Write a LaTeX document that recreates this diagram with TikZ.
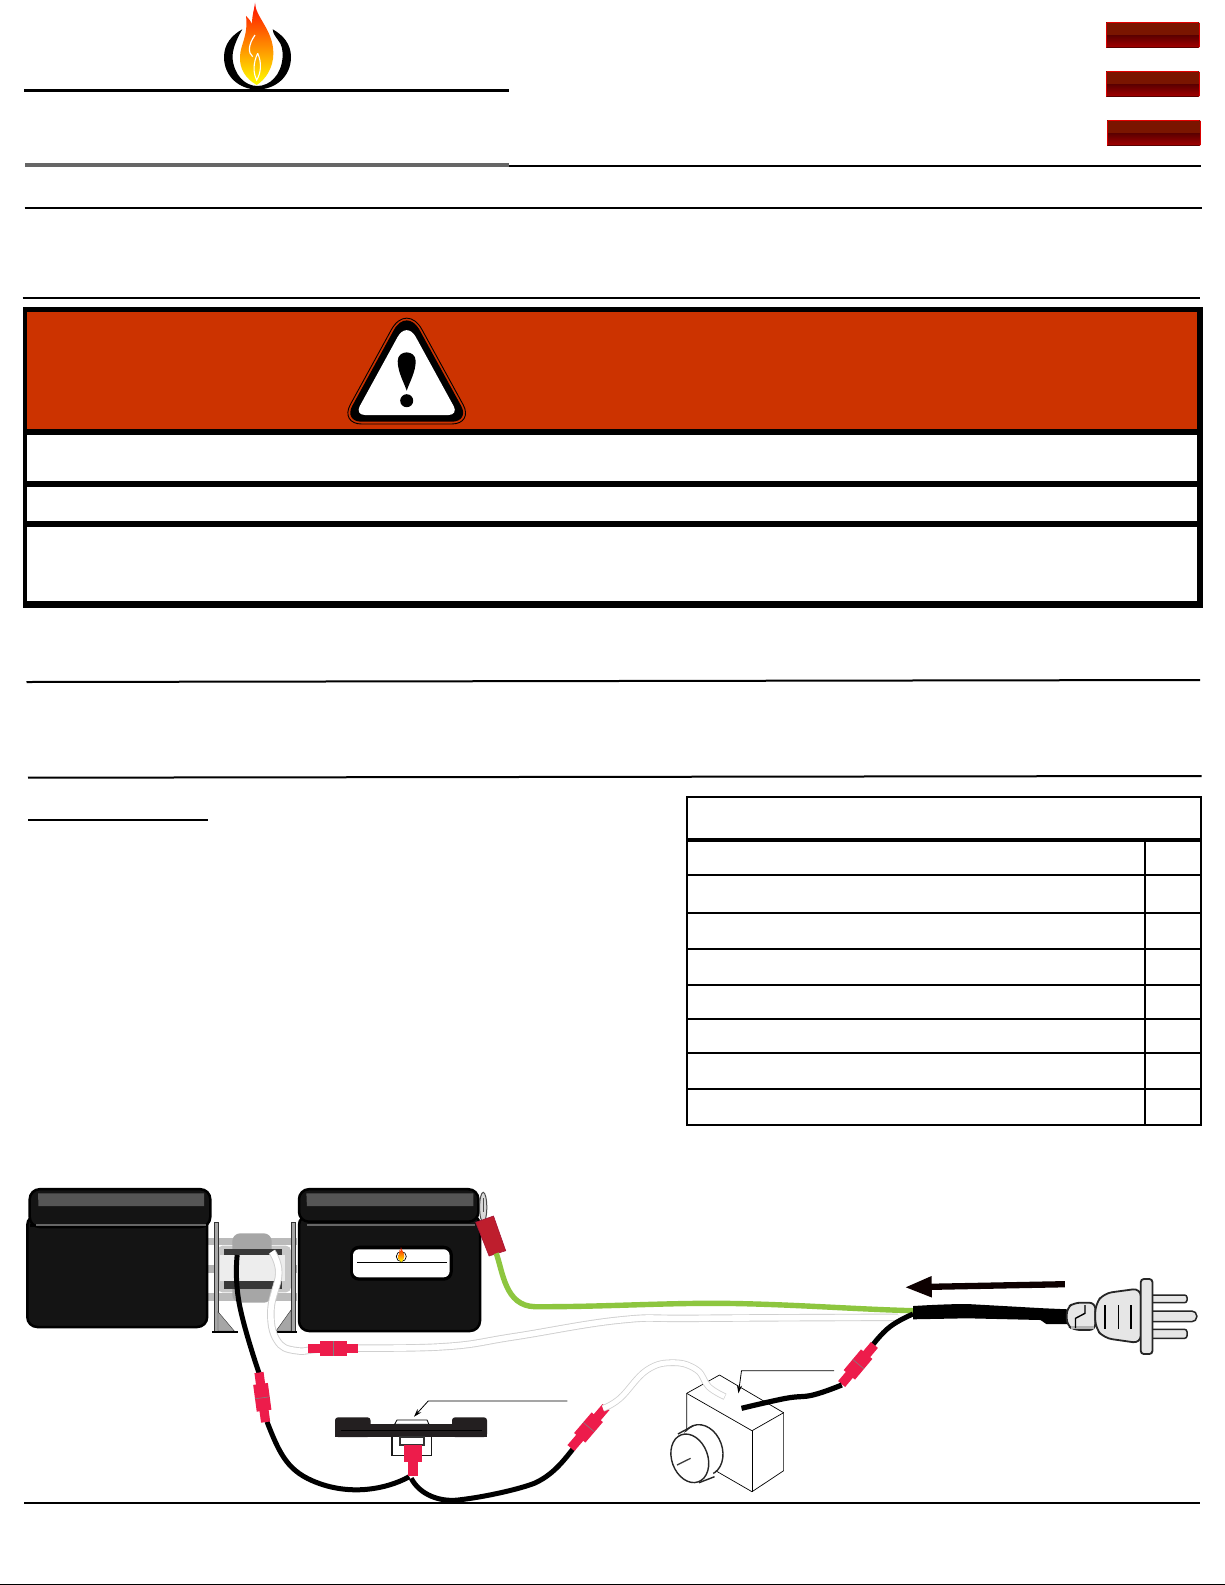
\documentclass[tikz,border=0pt]{standalone}
\usepackage{tikz}
\usetikzlibrary{arrows.meta}

\definecolor{warnred}{HTML}{CC3300}
\definecolor{fanblack}{HTML}{141414}
\definecolor{fanstrip}{HTML}{555555}
\definecolor{pinkclip}{HTML}{ED1C4B}
\definecolor{wiregreen}{HTML}{8DC63F}
\definecolor{wireedge}{HTML}{CFCFCF}
\definecolor{plugbody}{HTML}{E6E6E6}
\definecolor{limitblack}{HTML}{231F20}
\definecolor{btnedge}{HTML}{7A1500}
\definecolor{btnmid}{HTML}{BC1E00}
\definecolor{btnlow}{HTML}{5A0000}
\definecolor{btnbase}{HTML}{A40000}
\definecolor{groundclip}{HTML}{BE1E2D}

\tikzset{
  rule/.style={line width=2pt},
  blackwire/.style={line width=5pt, black},
  whitewire/.style={line width=#1, wireedge},
  whitecore/.style={line width=#1, white},
  fanshell/.style={draw=black, line width=2.5pt, fill=fanblack, rounded corners=10pt},
  leader/.style={line width=0.8pt, -{Stealth[length=8pt,width=5pt]}},
  plugpart/.style={draw=black!85, line width=1.8pt, fill=plugbody},
  clip joint/.pic={
    \fill[pinkclip] (-#1,-4.6) rectangle (#1,4.6);
    \fill[pinkclip] (-13.5,-7.4) rectangle (13.5,7.4);
    \draw[gray, line width=0.6pt] (0.5,-7.4) -- (0.5,7.4);
  },
  flame/.pic={
    \shade[top color=red!90!orange, middle color=orange!85!red, bottom color=yellow]
      (0,125) .. controls (-35,105) and (-52,75) .. (-50,40)
      .. controls (-50,5) and (-25,-20) .. (-32,-82)
      .. controls (-15,-65) and (-6,-50) .. (-10,-32)
      .. controls (-20,-70) and (-8,-95) .. (-5,-122)
      .. controls (-5,-80) and (50,-40) .. (50,30)
      .. controls (50,75) and (25,110) .. (0,125) -- cycle;
  }
}

\begin{document}
\begin{tikzpicture}[x=1pt,y=-1pt]

    \useasboundingbox (0,0) rectangle (1225,1585);
    \fill[white] (0,0) rectangle (1225,1585);


    % logo
    \fill[black]
      (242.3,29.3) .. controls (232,35) and (224,44) .. (224,57)
      .. controls (224,77) and (240,89.5) .. (257.3,89.5)
      .. controls (275,89.5) and (291,77) .. (291,57)
      .. controls (291,44) and (283,35) .. (272.7,29.3)
      .. controls (273,34) and (276,37) .. (278,40)
      .. controls (282,45) and (283,50) .. (282.5,58)
      .. controls (281,75) and (270,86) .. (257.3,86)
      .. controls (245,86) and (234,75) .. (232.5,58)
      .. controls (232.5,50) and (235,42) .. (242.3,29.3) -- cycle;

    \pic[scale=0.3333] at (256.7,43.3) {flame};

    \draw[white, line width=1.2pt] (255,35) .. controls (248,45) and (248,53) .. (252.7,56.7);
    \draw[white, line width=1.1pt] (257.7,53.3) .. controls (253,63) and (253,73) .. (256.7,80)
      .. controls (261,73) and (262,63) .. (257.7,53.3);


    % page rules
    \draw[line width=3.4pt] (24.3,90.7) -- (509,90.7);

    \draw[line width=4pt, black!60] (25,165) -- (509,165);

    \draw[rule] (509,165.7) -- (1201,165.7);

    \draw[rule] (24.5,207.7) -- (1202,207.7);

    \draw[rule] (22.5,297.7) -- (1200,297.7);

    \draw[rule] (26.5,682) -- (1200,680);

    \draw[rule] (28,777.7) -- (1201.5,776);

    \draw[rule] (28,820) -- (208,820);

    \draw[line width=2.4pt] (24,1503) -- (1199.5,1503);


    % red buttons
    \foreach \bx/\by in {1106/22, 1106/71, 1107/120} {
      \shade[left color=btnedge, middle color=btnmid, right color=btnedge]
        (\bx,\by) rectangle ++(93,13);
      \shade[top color=btnlow, bottom color=btnbase] (\bx,\by+13) rectangle ++(93,12.7);
      \draw[red!90!black, line width=0.7pt] (\bx+1,\by) -- ++(91,0);
      \draw[btnlow, line width=0.8pt] (\bx+1,\by+25.7) -- ++(91,0);
      \draw[red!85!black, line width=0.7pt] (\bx,\by+1) -- ++(0,23.7);
      \draw[red!85!black, line width=0.7pt] (\bx+93,\by+1) -- ++(0,23.7);
    }


    % warning box
    \fill[black] (22.7,307.3) rectangle (1202.7,607.7);
    \fill[warnred] (27.3,312.3) rectangle (1196.7,429.3);
    \fill[white] (27.3,434.5) rectangle (1196.7,480.7);
    \fill[white] (27.3,487.3) rectangle (1196.7,520.7);
    \fill[white] (27.3,527.3) rectangle (1196.7,601.3);

    \draw[black, line width=0.9pt] (406.7,424) [rounded corners=22pt] -- (339.7,424) [rounded corners=32pt] -- (406.7,301.7) [rounded corners=22pt] -- (473.7,424) -- cycle;
    \fill[black] (406.7,421.7) [rounded corners=18pt] -- (343.6,421.7) [rounded corners=27pt] -- (406.7,306.5) [rounded corners=18pt] -- (469.8,421.7) -- cycle;
    \fill[white] (406.7,415) [rounded corners=10pt] -- (354.9,415) [rounded corners=19pt] -- (406.7,320.4) [rounded corners=10pt] -- (458.5,415) -- cycle;
    \fill[black] (406.7,390.7) .. controls (403.8,382) and (397.7,372) .. (397.7,361)
      .. controls (397.7,349.5) and (415.7,349.5) .. (415.7,361)
      .. controls (415.7,372) and (409.6,382) .. (406.7,390.7) -- cycle;
    \fill[black] (406.7,400.7) circle (6.5);


    % parts table
    \draw[rule] (686.7,796.7) rectangle (1201,1124.7);

    \draw[line width=4pt] (686.7,839.7) -- (1201,839.7);

    \foreach \rowy in {875, 912.7, 948.7, 984.7, 1019, 1053, 1089} {
      \draw[rule] (686.7,\rowy) -- (1201,\rowy);
    }

    \draw[rule] (1145,840) -- (1145,1124.7);


    % blower housing
    \fill[black!27] (208.3,1237.7) rectangle (296.7,1245);
    \fill[black!30] (208.3,1265) rectangle (296.7,1272.7);
    \fill[black!27] (208.3,1293.3) rectangle (296.7,1300.7);
    \fill[black!22, rounded corners=5pt] (217.3,1245.7) rectangle (291,1292.3);
    \fill[black!35, rounded corners=8pt] (232.3,1233.3) rectangle (271.7,1302.7);
    \fill[black!7] (220,1255) rectangle (285,1280.7);
    \fill[black!78] (224,1249) rectangle (282,1255);
    \fill[black!78] (224,1281) rectangle (282,1289);

    \draw[black!80, fill=black!35, line width=0.6pt] (214,1222.3) rectangle (218,1331.7);
    \draw[black!80, fill=black!35, line width=0.6pt] (291,1222.3) rectangle (295,1331.7);
    \draw[black!80, fill=black!35] (218,1311.7) -- (234.3,1331) -- (218,1331) -- cycle;
    \draw[black!80, fill=black!35] (291,1310) -- (276,1331) -- (291,1331) -- cycle;
    \draw[line width=2.4pt] (212,1332) -- (237.7,1332);
    \draw[line width=2.4pt] (276,1332) -- (296.7,1332);

    \draw[fanshell] (27.3,1215) rectangle (207.2,1327);
    \draw[fanshell] (29.7,1189.2) rectangle (210.3,1227);
    \fill[fanstrip] (38,1193.3) -- (204,1193.3) -- (204,1206) -- (38.5,1206) -- cycle;
    \draw[black, line width=3pt] (30,1225) -- (208,1225);
    \draw[black!60, line width=1.3pt] (35.6,1225) -- (205.6,1225);

    \draw[fanshell] (299,1215) rectangle (480,1331);
    \draw[fanshell] (299,1189.2) rectangle (478.4,1221.7);
    \fill[fanstrip] (306.4,1193.3) -- (473.3,1193.3) -- (473.3,1206) -- (306.9,1206) -- cycle;
    \draw[black!60, line width=1.3pt] (306.8,1225) -- (474.5,1225);

    \fill[black, rounded corners=9pt] (350,1245.7) rectangle (452.8,1280.7);
    \fill[white, rounded corners=6pt] (353,1249.3) rectangle (449.6,1277.3);
    \draw[line width=0.7pt] (357,1262.3) -- (446.8,1262.3);
    \draw[black, line width=0.7pt] (401.3,1256.5) ellipse (5 and 5);
    \pic[scale=0.06] at (401.3,1254.5) {flame};

    \draw[black!70, fill=black!15, line width=1pt] (483.2,1207.3) ellipse (3.6 and 15);
    \draw[black!70, line width=0.7pt] (483.2,1198) -- (483.2,1212);
    \fill[groundclip, draw=pinkclip!70!black, line width=0.6pt] (475.7,1222.3) -- (493.5,1216) -- (505.7,1250.7) -- (489.1,1256) -- cycle;


    % wires
    \draw[whitewire=7.4pt] plot[smooth, tension=0.7] coordinates {(272,1251.7) (278.8,1273) (270.9,1310) (276.8,1340) (296.6,1350.7) (333,1348.3) (443,1346.7) (514,1336.7) (620,1320) (697,1318.3) (898,1317.3)};
    \draw[whitecore=5.6pt] plot[smooth, tension=0.7] coordinates {(272,1251.7) (278.8,1273) (270.9,1310) (276.8,1340) (296.6,1350.7) (333,1348.3) (443,1346.7) (514,1336.7) (620,1320) (697,1318.3) (898,1317.3)};

    \draw[line width=5.4pt, wiregreen] (496.2,1253.3) .. controls (503,1272) and (505,1306) .. (535,1306.7)
      .. controls (600,1307) and (660,1303) .. (720,1303.3) .. controls (790,1304) and (850,1309) .. (913,1310.7);

    \draw[blackwire] plot[smooth, tension=0.8] coordinates {(237.2,1255) (239.2,1303.3) (259,1373)};
    \draw[blackwire] (267,1421.7) .. controls (280,1455) and (288,1472) .. (318,1483)
      .. controls (350,1495) and (385,1490) .. (409.3,1476.7);
    \draw[blackwire] (411.2,1478.3) .. controls (420,1495) and (440,1502) .. (458,1500)
      .. controls (485,1497) and (520,1489) .. (535,1483) .. controls (552,1475) and (562,1463) .. (573.4,1448.3);
    \draw[blackwire] plot[smooth, tension=0.8] coordinates {(872.7,1345) (890,1326.7) (913,1314)};

    \fill[black] (913.2,1306) .. controls (930,1305) and (950,1304) .. (967.2,1304) -- (1044.4,1308.3) -- (1067.5,1309.3) -- (1067.5,1324) -- (1046.3,1324) -- (1040.5,1320) -- (967.2,1318.3) -- (913.2,1319.3) -- cycle;

    \pic[rotate=-82.4] at (262.3,1397.3) {clip joint=25};
    \pic at (333,1348.3) {clip joint=25};
    \pic[rotate=49.5] at (588.5,1427.5) {clip joint=27};
    \pic[rotate=50] at (858,1364.5) {clip joint=25.5};


    % limit control
    \draw[black!90, line width=1.2pt, fill=white] (392,1437) -- (392,1455.7) -- (431.8,1455.7) -- (431.8,1437);
    \fill[limitblack, rounded corners=3pt] (335,1437) -- (335,1417.3) -- (370.5,1417.3) -- (370.5,1437) -- cycle;
    \fill[limitblack, rounded corners=3pt] (452,1437) -- (452,1417.3) -- (487,1417.3) -- (487,1437) -- cycle;
    \fill[limitblack] (335,1424.3) rectangle (487,1437);
    \draw[black, line width=0.8pt, fill=white] (394.6,1424.3) -- (397,1420) -- (427,1420) -- (429,1424.3) -- cycle;
    \draw[black, line width=0.8pt] (341,1430.7) -- (482.4,1430.7);
    \draw[black!80, line width=1.3pt, fill=white] (400,1437) rectangle (424,1445);
    \fill[pinkclip] (404,1445) rectangle (422,1462.3);
    \fill[pinkclip] (408,1462.3) rectangle (418,1475.7);

    \draw[leader] (567.4,1401) -- (428.2,1401) -- (414,1416.7);


    % dimmer box
    \draw[line width=0.7pt, fill=white, line join=round] (686.7,1393.3) -- (719.5,1375) -- (783.6,1412.7) -- (783.6,1470.7) -- (752,1491.7) -- (686.7,1454) -- cycle;
    \draw[line width=0.7pt] (686.7,1393.3) -- (752,1430.7) -- (783.6,1412.7);
    \draw[line width=0.7pt] (752,1430.7) -- (752,1491.7);

    \draw[black!85, line width=1.4pt, fill=white] (702.2,1450) ellipse [x radius=20pt, y radius=26pt, rotate=20];
    \fill[white] (680,1435) -- (696,1426.5) -- (714,1476) -- (699,1482) -- cycle;
    \draw[black!85, line width=1.4pt] (693.3,1425.7) -- (677.9,1434);
    \draw[black!85, line width=1.4pt] (714.5,1476.7) -- (699,1482.7);
    \draw[black!85, line width=1.4pt, fill=white] (689.8,1458.3) ellipse [x radius=18pt, y radius=25pt, rotate=20];
    \draw[black!75, line width=1.3pt] (677,1465) -- (690.6,1458.3);

    \draw[whitewire=6.6pt] plot[smooth, tension=0.7] coordinates {(603,1408.3) (620,1398.3) (647,1370) (674,1362.7) (697,1370) (708.7,1386.7) (725,1396.7)};
    \draw[whitecore=5pt] plot[smooth, tension=0.7] coordinates {(603,1408.3) (620,1398.3) (647,1370) (674,1362.7) (697,1370) (708.7,1386.7) (724.5,1396.4)};

    \draw[line width=5.2pt] plot[smooth, tension=0.7] coordinates {(841.8,1385) (812.9,1395) (785.9,1398.3) (741.5,1408.3)};

    \draw[leader] (834,1370.7) -- (741.5,1370.7) -- (738.4,1393.3);


    % plug
    \draw[line width=6.3pt, -{Triangle[length=27pt,width=19.4pt]}, black!95!red] (1064.8,1284.2) -- (904.7,1287.3);

    \draw[plugpart, rounded corners=6pt] (1095.3,1302.7) -- (1074,1302.7) -- (1066.8,1308) -- (1066.8,1325) -- (1074,1330) -- (1095.3,1330) -- cycle;
    \fill[black!30] (1071,1325.5) rectangle (1094.4,1329);
    \draw[line width=1.4pt] (1085,1305) -- (1085,1313.3) -- (1075.5,1318.3) -- (1075.5,1328);

    \draw[plugpart, rounded corners=8pt] (1095.3,1304) -- (1104,1293.3) -- (1140.8,1288.3) -- (1140.8,1343.3) -- (1104,1338) -- (1095.3,1328) -- cycle;
    \foreach \ribx in {1105.3, 1118.5, 1131.2} {
      \draw[line width=1.8pt] (\ribx,1305) -- (\ribx,1329);
    }

    \draw[plugpart, line width=1.5pt, rounded corners=2.5pt] (1152.4,1295) -- (1187,1295) -- (1187,1302.7) -- (1152.4,1302.7);
    \draw[plugpart, line width=1.5pt, rounded corners=2.5pt] (1152.4,1329.3) -- (1187,1329.3) -- (1187,1338.3) -- (1152.4,1338.3);
    \draw[plugpart, line width=1.5pt, rounded corners=5pt] (1152.4,1311) -- (1196.8,1311) -- (1196.8,1321.7) -- (1152.4,1321.7);
    \draw[plugpart, rounded corners=3pt] (1140.8,1279) rectangle (1152.4,1354);


    % bottom edge
    \draw[line width=1pt] (0,1584.5) -- (1225,1584.5);

\end{tikzpicture}
\end{document}
